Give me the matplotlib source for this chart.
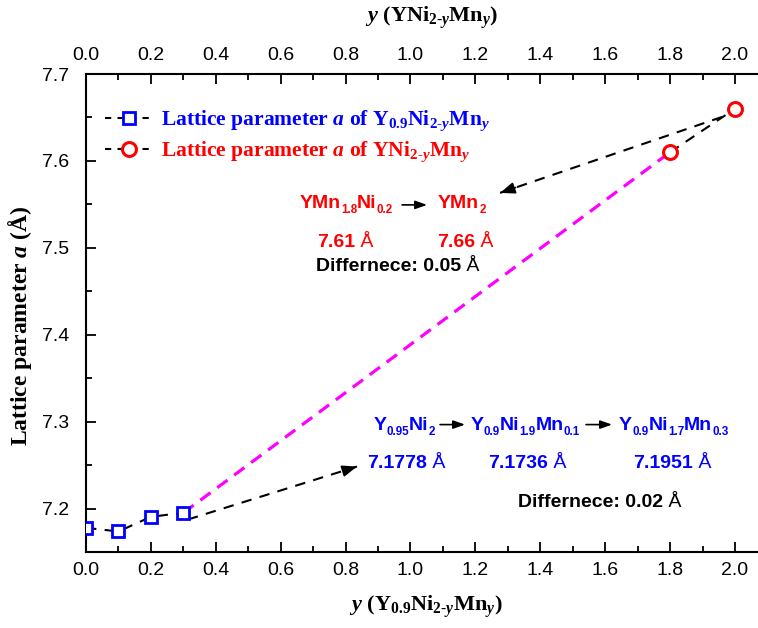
import matplotlib
matplotlib.use("Agg")
import matplotlib.pyplot as plt
from matplotlib.lines import Line2D
from matplotlib.ticker import MultipleLocator

plt.rcParams['mathtext.fontset'] = 'custom'
plt.rcParams['mathtext.rm'] = 'Liberation Serif:bold'
plt.rcParams['mathtext.it'] = 'Liberation Serif:italic:bold'
plt.rcParams['mathtext.bf'] = 'Liberation Serif:bold'
plt.rcParams['mathtext.sf'] = 'Liberation Sans:bold'
plt.rcParams['mathtext.tt'] = 'Liberation Sans'

# data
y_blue = [0.0, 0.1, 0.2, 0.3]
a_blue = [7.1778, 7.1736, 7.1905, 7.1951]
y_red = [1.8, 2.0]
a_red = [7.61, 7.66]
x_ticks = [0.0, 0.2, 0.4, 0.6, 0.8, 1.0, 1.2, 1.4, 1.6, 1.8, 2.0]
y_ticks = [7.2, 7.3, 7.4, 7.5, 7.6, 7.7]

W, H = 758, 628
fig = plt.figure(figsize=(W / 100, H / 100), dpi=100)
L, R, T, B = 86, 761, 74, 552
ax = fig.add_axes([L / W, (H - B) / H, (R - L) / W, (B - T) / H])
ax.set_xlim(0, 2.0 * (R - L) / (735 - 86))
ax.set_ylim(7.15, 7.7)

black_dash = (5, 4)
# magenta connecting line
ax.plot([y_blue[-1], y_red[0]], [a_blue[-1], a_red[0]], color='#FF00FF', lw=2.3,
        dashes=(4, 2.6), zorder=2)
# series
ax.plot(y_blue, a_blue, color='k', lw=1.5, dashes=black_dash, marker='s', ms=9,
        mfc='white', mec='#0000FF', mew=2.0, zorder=3)
ax.plot(y_red, a_red, color='k', lw=1.5, dashes=black_dash, marker='o', ms=10,
        mfc='white', mec='#FF0000', mew=2.2, zorder=3)

# dashed arrows
def dashed_arrow(x0, y0, x1, y1):
    ax.plot([x0, x1], [y0, y1], color='k', lw=1.5, dashes=black_dash, zorder=2)
    fx = x0 + (x1 - x0) * 0.93
    fy = y0 + (y1 - y0) * 0.93
    ax.annotate('', xy=(x1, y1), xytext=(fx, fy),
                arrowprops=dict(arrowstyle='-|>,head_length=0.9,head_width=0.35',
                                color='k', lw=1.2, shrinkA=0, shrinkB=0))

dashed_arrow(1.96, 7.6506, 1.276, 7.5632)
dashed_arrow(0.314, 7.1874, 0.835, 7.2483)

def small_arrow(x0, x1, yy):
    ax.annotate('', xy=(x1, yy), xytext=(x0, yy),
                arrowprops=dict(arrowstyle='-|>,head_length=0.7,head_width=0.25',
                                color='k', lw=1.2, shrinkA=0, shrinkB=0))

small_arrow(0.974, 1.051, 7.5494)
small_arrow(1.091, 1.168, 7.2966)
small_arrow(1.541, 1.621, 7.2966)

FS = 14
def rich(x, y, chunks, color):
    """chunks: list of (text, kind); kind 'n' bold, 's' bold subscript, 'r' regular"""
    base = ax.text(x, y, chunks[0][0], family='Liberation Sans', weight='bold',
                   fontsize=FS, color=color, va='baseline', ha='left')
    prev = base
    for s, kind in chunks[1:]:
        if kind == 's':
            fs, dy, wt = FS * 0.6, -3.2, 'bold'
        elif kind == 'r':
            fs, dy, wt = FS, 0, 'normal'
        else:
            fs, dy, wt = FS, 0, 'bold'
        prev = ax.annotate(s, xy=(1, 0), xycoords=(prev, base), xytext=(0, dy),
                           textcoords='offset points', va='bottom', ha='left',
                           family='Liberation Sans', weight=wt, fontsize=fs, color=color)

red = '#FF0000'
blue = '#0000FF'
rich(0.659, 7.546, [('YMn', 'n'), ('1.8', 's'), ('Ni', 'n'), ('0.2', 's')], red)
rich(1.085, 7.546, [('YMn', 'n'), ('2', 's')], red)
rich(0.712, 7.501, [('7.61', 'n'), (' Å', 'r')], red)
rich(1.082, 7.501, [('7.66', 'n'), (' Å', 'r')], red)
rich(0.709, 7.4736, [('Differnece: 0.05', 'n'), (' Å', 'r')], 'k')

rich(0.885, 7.2908, [('Y', 'n'), ('0.95', 's'), ('Ni', 'n'), ('2', 's')], blue)
rich(1.186, 7.2908, [('Y', 'n'), ('0.9', 's'), ('Ni', 'n'), ('1.9', 's'),
                     ('Mn', 'n'), ('0.1', 's')], blue)
rich(1.643, 7.2908, [('Y', 'n'), ('0.9', 's'), ('Ni', 'n'), ('1.7', 's'),
                     ('Mn', 'n'), ('0.3', 's')], blue)
rich(0.866, 7.2471, [('7.1778', 'n'), (' Å', 'r')], blue)
rich(1.239, 7.2471, [('7.1736', 'n'), (' Å', 'r')], blue)
rich(1.686, 7.2471, [('7.1951', 'n'), (' Å', 'r')], blue)
rich(1.331, 7.2023, [('Differnece: 0.02', 'n'), (' Å', 'r')], 'k')

# legend
h1 = Line2D([], [], color='k', lw=1.5, dashes=(3, 3), marker='s', ms=9,
            mfc='white', mec=blue, mew=2.0)
h2 = Line2D([], [], color='k', lw=1.5, dashes=(3, 3), marker='o', ms=10,
            mfc='white', mec=red, mew=2.2)
lab1 = r'Lattice parameter $\mathit{a}$ of Y$_{0.9}$Ni$_{2\text{-}\mathit{y}}$Mn$_{\mathit{y}}$'
lab2 = r'Lattice parameter $\mathit{a}$ of YNi$_{2\text{-}\mathit{y}}$Mn$_{\mathit{y}}$'
leg = ax.legend([h1, h2], [lab1, lab2], loc='upper left', bbox_to_anchor=(0.0, 0.968),
                frameon=False, prop=dict(family='Liberation Serif', weight='bold', size=15.5),
                handlelength=2.2, handletextpad=0.4, labelspacing=0.3,
                labelcolor=[blue, red])

# ticks
ax.set_xticks(x_ticks)
ax.set_yticks(y_ticks)
ax.set_xticklabels([f'{v:.1f}' for v in x_ticks])
ax.set_yticklabels([f'{v:.1f}' for v in y_ticks])
ax.xaxis.set_minor_locator(MultipleLocator(0.1))
ax.yaxis.set_minor_locator(MultipleLocator(0.05))
ax.tick_params(which='both', direction='in', top=True, labeltop=True,
               right=False, width=1.3)
ax.tick_params(which='major', length=7, labelsize=14)
ax.tick_params(axis='x', which='major', pad=7)
ax.tick_params(axis='y', which='major', pad=12)
ax.tick_params(which='minor', length=4)
for lbl in ax.get_xticklabels() + ax.get_yticklabels():
    lbl.set_family('Liberation Sans')
ax.spines['right'].set_visible(False)
for s in ['left', 'top', 'bottom']:
    ax.spines[s].set_linewidth(1.5)

serif = dict(family='Liberation Serif', weight='bold')
fig.text(426 / W, 1 - 607 / H, r'$\mathit{y}$ (Y$_{0.9}$Ni$_{2\text{-}\mathit{y}}$Mn$_{\mathit{y}}$)',
         ha='center', va='center', fontsize=16, **serif)
fig.text(432 / W, 1 - 18 / H, r'$\mathit{y}$ (YNi$_{2\text{-}\mathit{y}}$Mn$_{\mathit{y}}$)',
         ha='center', va='center', fontsize=16, **serif)
fig.text(20 / W, 1 - 326 / H, r'Lattice parameter $\mathit{a}$ (Å)', rotation=90,
         ha='center', va='center', fontsize=17, **serif)

fig.savefig('out.png', dpi=100)
